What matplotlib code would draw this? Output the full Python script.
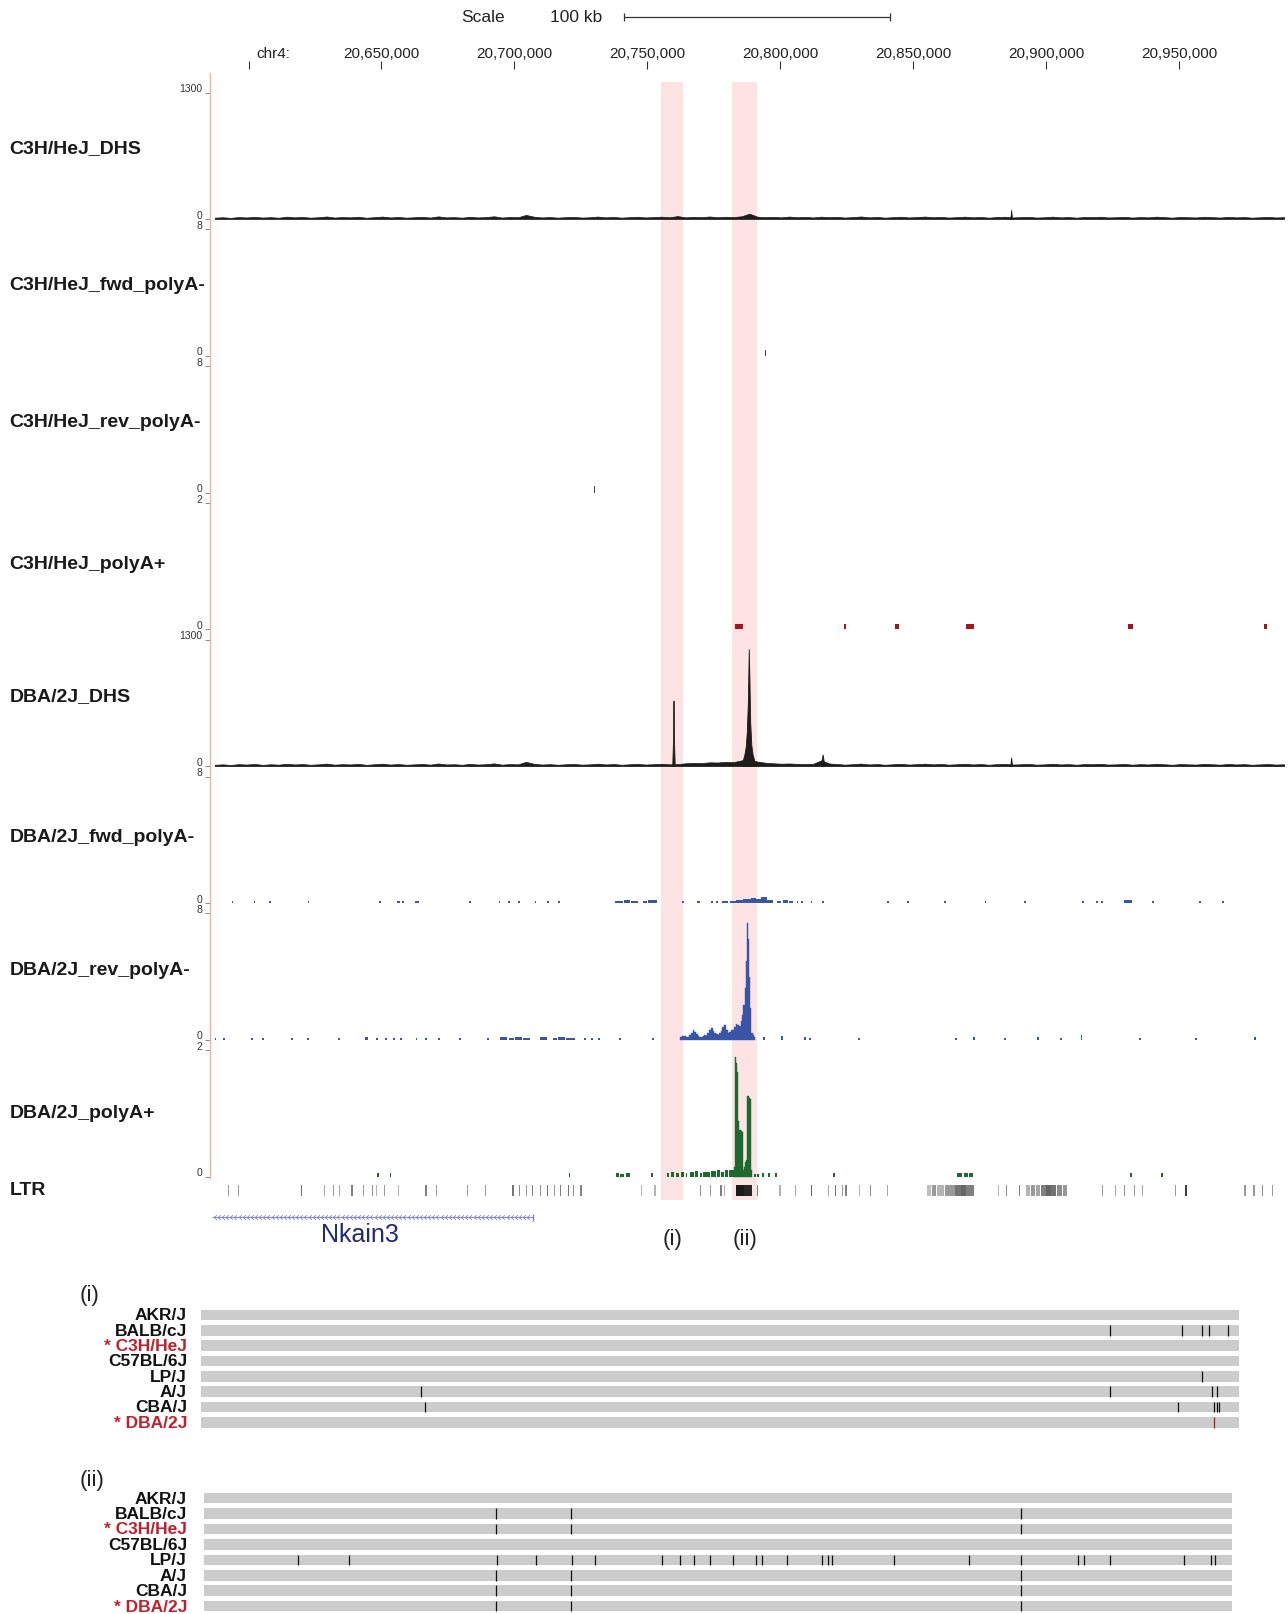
import matplotlib
matplotlib.use('Agg')
import matplotlib.pyplot as plt
import numpy as np
from matplotlib.path import Path
from matplotlib.patches import Rectangle
from matplotlib.lines import Line2D

plt.rcParams['font.family'] = ['Liberation Sans', 'DejaVu Sans']

# ---------------- DATA (positions in kb on chr4) ----------------
ruler_ticks = [20650, 20700, 20750, 20800, 20850, 20900, 20950]
ruler_labels = ['20,650,000', '20,700,000', '20,750,000', '20,800,000',
                '20,850,000', '20,900,000', '20,950,000']
chr_tick = 20600.4
scale_start, scale_len = 20741.4, 100

region_i = (20755.3, 20763.7)
region_ii = (20782.1, 20791.3)

track_names = ['C3H/HeJ_DHS', 'C3H/HeJ_fwd_polyA-', 'C3H/HeJ_rev_polyA-', 'C3H/HeJ_polyA+',
               'DBA/2J_DHS', 'DBA/2J_fwd_polyA-', 'DBA/2J_rev_polyA-', 'DBA/2J_polyA+']
track_max = [1300, 8, 8, 2, 1300, 8, 8, 2]

dhs_bin_start, dhs_bin_kb = 20586.0, 3.0
c3h_dhs_base = [14, 18, 12, 20, 16, 22, 15, 19, 13, 24, 17, 21, 14, 18, 26,
                15, 20, 17, 23, 13, 19, 25, 16, 21, 14, 18, 22, 15, 27, 17,
                19, 14, 23, 16, 20, 28, 15, 21, 18, 42, 24, 16, 20, 14, 19,
                22, 15, 18, 25, 17, 21, 14, 19, 23, 16, 20, 24, 18, 30, 17,
                22, 19, 26, 18, 23, 20, 28, 55, 24, 19, 22, 17, 25, 18, 21,
                16, 24, 19, 22, 15, 20, 26, 17, 21, 14, 19, 23, 16, 20, 25,
                18, 22, 15, 19, 24, 17, 21, 14, 20, 23, 16, 19, 22, 15, 18,
                24, 17, 20, 14, 21, 19, 23, 16, 18, 22, 15, 20, 17, 24, 19,
                14, 21, 18, 16, 23, 19, 15, 22, 17, 20, 14, 18, 21, 16, 19]
dba_dhs_base = [15, 19, 13, 21, 17, 23, 14, 20, 16, 25, 18, 22, 15, 19, 27,
                16, 21, 18, 24, 14, 20, 26, 17, 22, 15, 19, 23, 16, 28, 18,
                20, 15, 24, 17, 21, 29, 16, 22, 19, 45, 25, 17, 21, 15, 20,
                23, 16, 19, 26, 18, 22, 15, 20, 24, 17, 21, 25, 19, 22, 30,
                35, 32, 40, 38, 45, 42, 60, 70, 48, 36, 30, 26, 28, 24, 22,
                25, 60, 28, 22, 16, 21, 27, 18, 22, 15, 20, 24, 17, 21, 26,
                19, 23, 16, 20, 25, 18, 22, 15, 21, 24, 17, 20, 23, 16, 19,
                25, 18, 21, 15, 22, 20, 24, 17, 19, 23, 16, 21, 18, 25, 20,
                15, 22, 19, 17, 24, 20, 16, 23, 18, 21, 15, 19, 22, 17, 20]
c3h_dhs_peak_x = [20886.6, 20886.9, 20887.2]
c3h_dhs_peak_v = [15, 95, 15]
dba_peak1_x = [20759.5, 20759.8, 20759.95, 20760.1, 20760.4]
dba_peak1_v = [20, 300, 674, 300, 20]
dba_peak2_x = [20786.0, 20786.6, 20787.1, 20787.5, 20787.9, 20788.25, 20788.5, 20788.8, 20789.2, 20789.7, 20790.3]
dba_peak2_v = [60, 120, 200, 350, 650, 1205, 900, 450, 220, 120, 60]
dba_peak3_x = [20815.4, 20816.0, 20816.5]
dba_peak3_v = [30, 121, 40]
dba_peak4_x = [20886.6, 20886.9, 20887.2]
dba_peak4_v = [15, 90, 15]

c3h_fwd_start, c3h_fwd_end, c3h_fwd_val = [20794.2], [20794.6], [0.35]
c3h_rev_start, c3h_rev_end, c3h_rev_val = [20729.9], [20730.3], [0.4]

c3h_pa_start = [20783.1, 20824.1, 20843.2, 20869.8, 20931.0, 20982.1]
c3h_pa_end = [20786.0, 20824.9, 20844.8, 20873.0, 20932.6, 20982.9]
c3h_pa_val = [0.09, 0.08, 0.09, 0.09, 0.09, 0.08]

dba_fwd_start = [20593.8, 20602.1, 20608.0, 20622.4, 20649.1, 20656.0, 20657.8, 20662.8, 20663.6,
                 20683.0, 20694.2, 20697.7, 20701.4, 20707.7, 20712.5, 20716.5, 20738.0, 20741.4,
                 20744.0, 20748.5, 20750.5, 20763.3, 20768.8, 20774.2, 20776.1, 20778.0, 20781.2,
                 20783.5, 20786.0, 20789.0, 20791.0, 20793.0, 20795.0, 20798.9, 20801.0, 20803.5,
                 20806.2, 20808.0, 20811.5, 20815.9, 20840.1, 20847.9, 20861.8, 20876.9, 20891.6,
                 20913.7, 20918.7, 20920.6, 20929.4, 20940.0, 20957.4, 20966.3]
dba_fwd_end = [20594.5, 20602.8, 20608.7, 20623.1, 20649.8, 20657.1, 20658.5, 20663.4, 20664.2,
               20683.7, 20694.9, 20698.4, 20702.1, 20708.4, 20713.2, 20717.2, 20741.0, 20743.6,
               20746.6, 20750.0, 20753.8, 20764.0, 20770.0, 20774.9, 20776.8, 20780.5, 20783.5,
               20786.0, 20789.0, 20791.0, 20793.0, 20795.0, 20797.4, 20800.5, 20803.0, 20804.9,
               20806.9, 20808.7, 20812.2, 20816.6, 20840.8, 20848.6, 20862.5, 20877.6, 20892.3,
               20914.4, 20919.4, 20921.3, 20932.5, 20940.7, 20958.1, 20967.0]
dba_fwd_val = [0.15, 0.15, 0.15, 0.15, 0.15, 0.15, 0.15, 0.15, 0.15,
               0.15, 0.15, 0.15, 0.15, 0.15, 0.15, 0.15, 0.15, 0.18,
               0.15, 0.15, 0.18, 0.15, 0.15, 0.15, 0.15, 0.15, 0.15,
               0.2, 0.25, 0.3, 0.25, 0.35, 0.2, 0.15, 0.2, 0.15,
               0.15, 0.15, 0.15, 0.15, 0.15, 0.15, 0.15, 0.15, 0.15,
               0.15, 0.15, 0.15, 0.18, 0.15, 0.15, 0.15]

dba_rev_start = [20587.4, 20590.7, 20601.2, 20605.2, 20616.2, 20622.1, 20633.9, 20643.8, 20648.2,
                 20651.6, 20654.6, 20657.2, 20663.0, 20666.4, 20671.5, 20679.4, 20689.9, 20694.9,
                 20698.0, 20700.5, 20703.5, 20709.8, 20714.5, 20716.5, 20719.5, 20726.4, 20729.0,
                 20731.7, 20739.5, 20751.8, 20793.5, 20800.3, 20809.0, 20811.0, 20829.4, 20865.9,
                 20872.6, 20884.3, 20896.5, 20905.2, 20913.0, 20935.0, 20956.1, 20978.3]
dba_rev_end = [20588.1, 20591.4, 20601.9, 20605.9, 20616.9, 20622.8, 20634.6, 20645.1, 20648.9,
               20652.3, 20655.3, 20657.9, 20663.7, 20667.1, 20672.2, 20680.1, 20690.6, 20697.5,
               20700.0, 20703.0, 20705.9, 20712.4, 20716.0, 20719.0, 20722.9, 20727.1, 20729.7,
               20732.4, 20740.2, 20752.5, 20794.2, 20801.0, 20809.7, 20811.7, 20830.1, 20866.6,
               20873.3, 20885.0, 20897.2, 20905.9, 20913.7, 20935.7, 20956.8, 20979.0]
dba_rev_val = [0.13, 0.13, 0.13, 0.13, 0.13, 0.13, 0.13, 0.15, 0.13,
               0.13, 0.13, 0.13, 0.13, 0.13, 0.13, 0.13, 0.13, 0.15,
               0.13, 0.15, 0.13, 0.15, 0.13, 0.15, 0.13, 0.13, 0.13,
               0.13, 0.13, 0.13, 0.2, 0.25, 0.2, 0.13, 0.13, 0.13,
               0.2, 0.13, 0.2, 0.13, 0.28, 0.13, 0.13, 0.2]
dba_rev_peak_x = [20762.4, 20763.0, 20763.6, 20764.3, 20765.0, 20765.6, 20766.2, 20766.8, 20767.4, 20768.0,
                  20768.7, 20769.4, 20770.0, 20770.6, 20771.2, 20771.8, 20772.4, 20773.0, 20773.7, 20774.3,
                  20775.0, 20775.6, 20776.2, 20776.8, 20777.4, 20778.0, 20778.6, 20779.3, 20780.0, 20780.6,
                  20781.2, 20781.8, 20782.4, 20783.0, 20783.7, 20784.3, 20785.0, 20785.5, 20786.0, 20786.5,
                  20787.0, 20787.4, 20787.8, 20788.2, 20788.6, 20789.0, 20789.5, 20790.0, 20790.6]
dba_rev_peak_v = [0.15, 0.2, 0.25, 0.27, 0.2, 0.2, 0.3, 0.45, 0.62, 0.5,
                  0.35, 0.25, 0.2, 0.2, 0.25, 0.3, 0.25, 0.45, 0.6, 0.77,
                  0.55, 0.45, 0.35, 0.3, 0.4, 0.55, 0.8, 0.93, 0.6, 0.45,
                  0.5, 0.6, 0.6, 0.8, 1.0, 0.95, 0.9, 1.2, 1.55, 2.2,
                  3.3, 5.0, 7.4, 6.4, 4.0, 2.0, 0.4, 0.3, 0.15]

dba_pa_start = [20648.5, 20653.2, 20720.5, 20738.2, 20740.0, 20742.0, 20751.5, 20757.5, 20759.0, 20761.0,
                20762.8, 20764.5, 20766.0, 20768.0, 20769.8, 20771.0, 20774.0, 20776.3, 20777.8, 20779.3,
                20780.8, 20790.2, 20791.5, 20793.2, 20795.5, 20798.2, 20820.0, 20866.7, 20869.0, 20871.0,
                20931.5, 20943.1]
dba_pa_end = [20649.2, 20653.9, 20721.2, 20739.5, 20741.5, 20743.6, 20752.2, 20758.2, 20760.2, 20762.0,
              20763.8, 20765.2, 20767.5, 20769.0, 20770.5, 20773.5, 20776.0, 20777.5, 20779.0, 20780.5,
              20782.6, 20790.9, 20792.2, 20793.9, 20796.2, 20798.9, 20820.7, 20868.5, 20870.5, 20872.6,
              20932.2, 20943.8]
dba_pa_val = [0.05, 0.05, 0.05, 0.06, 0.04, 0.06, 0.06, 0.05, 0.07, 0.05,
              0.08, 0.05, 0.07, 0.09, 0.06, 0.08, 0.09, 0.1, 0.08, 0.1,
              0.11, 0.04, 0.04, 0.05, 0.05, 0.05, 0.05, 0.06, 0.05, 0.06,
              0.05, 0.05]
dba_pa_peak_x = [20782.8, 20783.3, 20783.8, 20784.1, 20784.5, 20785.0, 20785.5, 20786.0, 20786.4,
                 20786.8, 20787.1, 20787.5, 20787.9, 20788.4, 20788.8, 20789.2, 20789.6]
dba_pa_peak_v = [0.15, 1.89, 1.8, 1.66, 0.88, 0.73, 0.72, 0.70, 0.1,
                 0.15, 0.23, 0.26, 1.27, 1.25, 1.22, 0.1, 0.08]

ltr_start = [20592.4, 20596.3, 20619.8, 20628.4, 20632.0, 20634.1, 20638.8, 20643.3, 20646.7, 20648.0,
             20651.1, 20656.3, 20666.7, 20670.7, 20682.4, 20688.9, 20699.4, 20702.0, 20704.6, 20706.7,
             20709.8, 20712.4, 20715.0, 20717.1, 20720.2, 20722.3, 20724.9, 20747.6, 20752.8, 20769.8,
             20773.7, 20777.6, 20778.9, 20783.6, 20786.5, 20791.5, 20799.8, 20805.5, 20811.5, 20818.0,
             20820.7, 20823.3, 20824.6, 20829.8, 20833.7, 20840.2, 20855.4, 20857.0, 20859.0, 20862.0,
             20865.8, 20868.0, 20870.0, 20882.0, 20885.1, 20889.8, 20892.5, 20894.5, 20896.3, 20898.0,
             20900.0, 20902.0, 20904.0, 20906.3, 20921.1, 20925.8, 20929.4, 20932.9, 20936.2, 20948.5,
             20952.4, 20974.6, 20978.0, 20981.1, 20985.0]
ltr_end = [20592.8, 20596.7, 20620.3, 20628.8, 20632.4, 20634.5, 20639.3, 20643.7, 20647.1, 20648.4,
           20651.5, 20656.7, 20667.2, 20671.1, 20682.8, 20689.3, 20699.9, 20702.4, 20705.0, 20707.2,
           20710.2, 20712.9, 20715.4, 20717.6, 20720.7, 20722.7, 20725.4, 20748.0, 20753.2, 20770.2,
           20774.1, 20778.0, 20779.3, 20786.3, 20789.3, 20791.9, 20800.2, 20805.9, 20812.0, 20818.4,
           20821.2, 20823.7, 20825.0, 20830.2, 20834.1, 20840.6, 20856.8, 20858.8, 20861.8, 20865.6,
           20867.9, 20869.9, 20872.9, 20882.4, 20885.5, 20890.3, 20893.9, 20896.0, 20897.9, 20899.9,
           20901.9, 20903.9, 20905.9, 20908.0, 20921.5, 20926.2, 20929.8, 20933.3, 20936.6, 20948.9,
           20953.1, 20975.0, 20978.4, 20981.5, 20985.4]
ltr_shade = [0.6, 0.6, 0.45, 0.65, 0.6, 0.65, 0.5, 0.6, 0.55, 0.7,
             0.6, 0.7, 0.5, 0.6, 0.6, 0.6, 0.45, 0.55, 0.6, 0.5,
             0.55, 0.45, 0.6, 0.5, 0.45, 0.55, 0.5, 0.7, 0.7, 0.55,
             0.6, 0.5, 0.7, 0.1, 0.15, 0.5, 0.7, 0.65, 0.4, 0.65,
             0.45, 0.6, 0.5, 0.7, 0.55, 0.65, 0.75, 0.6, 0.7, 0.6,
             0.45, 0.4, 0.5, 0.7, 0.55, 0.5, 0.7, 0.6, 0.65, 0.5,
             0.4, 0.45, 0.55, 0.6, 0.6, 0.65, 0.55, 0.6, 0.65, 0.6,
             0.25, 0.6, 0.6, 0.55, 0.6]

gene_name = 'Nkain3'
gene_start, gene_end = 20586.5, 20707.0

strains = ['AKR/J', 'BALB/cJ', '* C3H/HeJ', 'C57BL/6J', 'LP/J', 'A/J', 'CBA/J', '* DBA/2J']
strain_red = [False, False, True, False, False, False, False, True]
# variant positions within each region, per mille of the displayed region
var_i = {'BALB/cJ': [875.6, 945, 964, 971, 989.4],
         'LP/J': [964],
         'A/J': [212, 875.6, 974, 979],
         'CBA/J': [216, 941, 976, 978.5, 980.5],
         '* DBA/2J': [976]}
var_ii = {'BALB/cJ': [284, 357, 795],
          '* C3H/HeJ': [284, 357, 795],
          'LP/J': [91, 141, 285, 323, 358, 380, 446, 463, 477, 492, 515, 537, 543, 567, 601, 607,
                   611, 671, 744, 795, 850, 856, 881, 953, 980, 983],
          'A/J': [284, 357, 795],
          'CBA/J': [284, 357, 795],
          '* DBA/2J': [284, 357, 795]}

# ---------------- LAYOUT ----------------
W, H = 1288, 1615
fig = plt.figure(figsize=(W / 100, H / 100), dpi=100)
XMIN, XMAX = 20585.7, 20990.6
TX0, TX1 = 210, 1287


def add_ax(x0, y0, x1, y1, zorder=1):
    ax = fig.add_axes([x0 / W, 1 - y1 / H, (x1 - x0) / W, (y1 - y0) / H], zorder=zorder)
    ax.patch.set_visible(False)
    return ax


def clean(ax):
    for s in ax.spines.values():
        s.set_visible(False)
    ax.set_xticks([])
    ax.set_yticks([])


# background with highlight bands
bg = add_ax(TX0, 0, TX1, H, zorder=0)
bg.set_xlim(XMIN, XMAX)
bg.set_ylim(H, 0)
bg.axis('off')
for (s, e) in [region_i, region_ii]:
    bg.add_patch(Rectangle((s, 83.4), e - s, 1200.5 - 83.4, color='#fde3e3', lw=0))

fig.add_artist(Line2D([TX0 / W, TX0 / W], [1 - 74 / H, 1 - 1179 / H], color='#efb0a2', lw=1.0))

# scale bar and ruler
top = add_ax(TX0, 0, TX1, 75)
top.set_xlim(XMIN, XMAX)
top.set_ylim(75, 0)
top.axis('off')
top.hlines(17.5, scale_start, scale_start + scale_len, color='#333', lw=0.9)
top.vlines([scale_start, scale_start + scale_len], 13.5, 21.5, color='#333', lw=0.9)
top.text(scale_start - 8.3, 17.5, '100 kb', ha='right', va='center', fontsize=12.5, color='#222')
top.text(scale_start - 44.8, 17.5, 'Scale', ha='right', va='center', fontsize=12.5, color='#222')
top.vlines(ruler_ticks + [chr_tick], 62, 70, color='#333', lw=0.8)
for t, lab in zip(ruler_ticks, ruler_labels):
    top.text(t, 54, lab, ha='center', va='center', fontsize=11, color='#222')
top.text(chr_tick + 2.8, 54, 'chr4:', ha='left', va='center', fontsize=11, color='#222')

# tracks
track_label_y = [148.3, 285.2, 422.1, 564.2, 697.0, 837.1, 970.9, 1113.0]
axes = []
for i in range(8):
    zero = 220 + i * 136.8
    ttop = zero - 126.4
    ax = add_ax(TX0, ttop, TX1, zero)
    ax.set_xlim(XMIN, XMAX)
    ax.set_ylim(0, track_max[i])
    clean(ax)
    ax.set_yticks([0, track_max[i]])
    ax.set_yticklabels([])
    ax.tick_params(axis='y', direction='out', length=3.5, width=0.6, color='#777')
    for v in [0, track_max[i]]:
        ax.annotate(str(v), xy=(0, v), xycoords=('axes fraction', 'data'), xytext=(-5.5, 3.2),
                    textcoords='offset points', ha='right', va='center', fontsize=7.5,
                    color='#333', annotation_clip=False)
    fig.text(9.3 / W, 1 - track_label_y[i] / H, track_names[i], fontsize=14, fontweight='bold',
             ha='left', va='center', color='#1a1a1a')
    axes.append(ax)

bins_x = dhs_bin_start + dhs_bin_kb * (np.arange(len(c3h_dhs_base)) + 0.5)
dhs_col = '#1c1c1c'
axes[0].fill_between(bins_x, 0, c3h_dhs_base, color=dhs_col, lw=0.5)
axes[0].fill_between(c3h_dhs_peak_x, 0, c3h_dhs_peak_v, color=dhs_col, lw=0.5)
axes[4].fill_between(bins_x, 0, dba_dhs_base, color=dhs_col, lw=0.5)
for px, pv in [(dba_peak1_x, dba_peak1_v), (dba_peak2_x, dba_peak2_v),
               (dba_peak3_x, dba_peak3_v), (dba_peak4_x, dba_peak4_v)]:
    axes[4].fill_between(px, 0, pv, color=dhs_col, lw=0.6, edgecolor=dhs_col)


def seg_bars(ax, starts, ends, vals, color):
    starts = np.array(starts)
    ends = np.array(ends)
    ax.bar(starts, vals, width=ends - starts, align='edge', color=color, lw=0)


seg_bars(axes[1], c3h_fwd_start, c3h_fwd_end, c3h_fwd_val, '#444444')
seg_bars(axes[2], c3h_rev_start, c3h_rev_end, c3h_rev_val, '#444444')
seg_bars(axes[3], c3h_pa_start, c3h_pa_end, c3h_pa_val, '#a3161c')
blue = '#3a55a6'
seg_bars(axes[5], dba_fwd_start, dba_fwd_end, dba_fwd_val, blue)
seg_bars(axes[6], dba_rev_start, dba_rev_end, dba_rev_val, blue)
axes[6].fill_between(dba_rev_peak_x, 0, dba_rev_peak_v, step='mid', color=blue, lw=0.3)
green = '#1d6a2e'
seg_bars(axes[7], dba_pa_start, dba_pa_end, dba_pa_val, green)
axes[7].fill_between(dba_pa_peak_x, 0, dba_pa_peak_v, step='mid', color=green, lw=0.3)

# LTR track
ltr = add_ax(TX0, 1186, TX1, 1197)
ltr.set_xlim(XMIN, XMAX)
ltr.set_ylim(0, 1)
clean(ltr)
ltr_s = np.array(ltr_start)
ltr_e = np.array(ltr_end)
ltr.bar(ltr_s, 1, width=ltr_e - ltr_s, align='edge', color=[str(s) for s in ltr_shade], lw=0)
fig.text(9.3 / W, 1 - 1190.5 / H, 'LTR', fontsize=14, fontweight='bold', ha='left', va='center',
         color='#1a1a1a')

# gene track + region labels
g = add_ax(TX0, 1200, TX1, 1260)
g.set_xlim(XMIN, XMAX)
g.set_ylim(1260, 1200)
g.axis('off')
g.hlines(1218, gene_start, gene_end, color='#8c8cd2', lw=0.8)
chev = Path([(0.6, 1), (-0.6, 0), (0.6, -1)], [Path.MOVETO, Path.LINETO, Path.LINETO])
chev_x = np.arange(gene_start + 1.0, gene_end - 0.5, 1.55)
g.plot(chev_x, np.full(len(chev_x), 1218), ls='none', marker=chev, markersize=3.2, mew=0.6,
       mec='#8080cc', mfc='none')
g.vlines(gene_end, 1214.5, 1221.5, color='#8080cc', lw=1.0)
g.text((gene_start + gene_end) / 2 - 4.5, 1235.5, gene_name, ha='center', va='center', fontsize=18,
       color='#1f2a78')
g.text(sum(region_i) / 2, 1239.5, '(i)', ha='center', va='center', fontsize=16, color='#222')
g.text(sum(region_ii) / 2, 1239.5, '(ii)', ha='center', va='center', fontsize=16, color='#222')


# variant panels
def variant_panel(label, label_y, x0, x1, row0, step, variants, red_var):
    fig.text(80 / W, 1 - label_y / H, label, fontsize=16, ha='left', va='center', color='#222')
    ys = [row0 + k * step for k in range(len(strains))]
    ax = add_ax(x0, ys[0] - 8, x1, ys[-1] + 8)
    ax.set_xlim(0, 1000)
    ax.set_ylim(ys[-1] + 8, ys[0] - 8)
    clean(ax)
    bh = 10.5
    ax.barh(ys, 1000, left=0, height=bh, color='#cccccc', lw=0)
    for k, name in enumerate(strains):
        col = '#c0202b' if strain_red[k] else '#111111'
        fig.text(187 / W, 1 - ys[k] / H, name, fontsize=12.5, fontweight='bold', ha='right',
                 va='center', color=col)
        if name in variants:
            vcol = '#b01820' if (red_var and strain_red[k]) else '#111111'
            ax.vlines(variants[name], ys[k] - bh / 2, ys[k] + bh / 2, color=vcol, lw=0.9)


variant_panel('(i)', 1295, 201, 1239, 1316.0, 15.33, var_i, True)
variant_panel('(ii)', 1480.6, 204, 1232, 1499.1, 15.44, var_ii, False)

fig.savefig('out.png', dpi=100)
